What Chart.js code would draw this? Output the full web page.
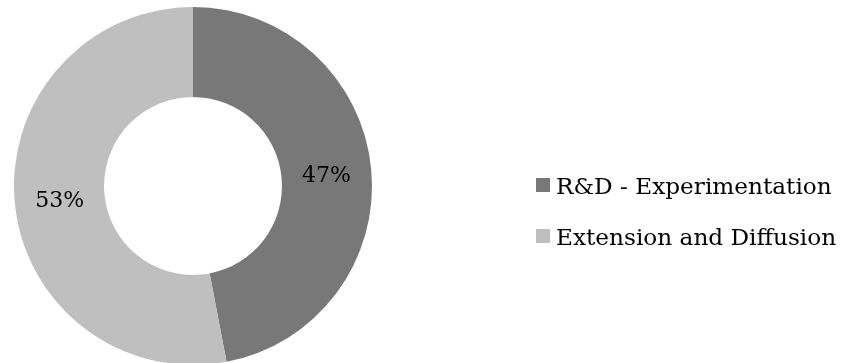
<!DOCTYPE html>
<html>
<head>
<meta charset="utf-8">
<script src="https://cdn.jsdelivr.net/npm/chart.js@4"></script>
<style>
  html, body { margin: 0; padding: 0; background: #fff; overflow: hidden; }
  #wrap { position: relative; width: 843px; height: 363px; overflow: hidden; }
  canvas { position: absolute; left: 0; top: 0; }
  #legend { position: absolute; left: 536px; top: 172px; font-family: "DejaVu Serif", serif; font-size: 23.2px; color: #000; }
  .item { display: flex; align-items: center; height: 26px; margin-bottom: 25px; white-space: nowrap; }
  .box { width: 14px; height: 14px; margin-right: 6px; flex: none; }
</style>
</head>
<body>
<div id="wrap">
  <canvas id="c" width="843" height="372"></canvas>
  <div id="legend"></div>
</div>
<script>
const categories = ["R&D - Experimentation", "Extension and Diffusion"];
const shares = [47, 53];
const colors = ["#787878", "#bfbfbf"];

const pctLabels = {
  id: 'pctLabels',
  afterDatasetsDraw(chart) {
    const ctx = chart.ctx;
    const meta = chart.getDatasetMeta(0);
    ctx.save();
    ctx.font = '22px "DejaVu Serif", serif';
    ctx.fillStyle = '#000';
    ctx.textAlign = 'center';
    ctx.textBaseline = 'middle';
    meta.data.forEach((arc, i) => {
      const p = arc.tooltipPosition();
      ctx.fillText(shares[i] + '%', p.x, p.y + 3);
    });
    ctx.restore();
  }
};

new Chart(document.getElementById('c'), {
  type: 'doughnut',
  data: {
    labels: categories,
    datasets: [{
      data: shares,
      backgroundColor: colors,
      borderWidth: 0
    }]
  },
  options: {
    responsive: false,
    animation: false,
    cutout: '49.7%',
    layout: { padding: { left: 14, right: 471, top: 7, bottom: 7 } },
    plugins: {
      legend: { display: false },
      tooltip: { enabled: false }
    }
  },
  plugins: [pctLabels]
});

const legend = document.getElementById('legend');
categories.forEach((name, i) => {
  const item = document.createElement('div');
  item.className = 'item';
  const box = document.createElement('span');
  box.className = 'box';
  box.style.background = colors[i];
  const txt = document.createElement('span');
  txt.textContent = name;
  item.appendChild(box);
  item.appendChild(txt);
  legend.appendChild(item);
});
</script>
</body>
</html>
